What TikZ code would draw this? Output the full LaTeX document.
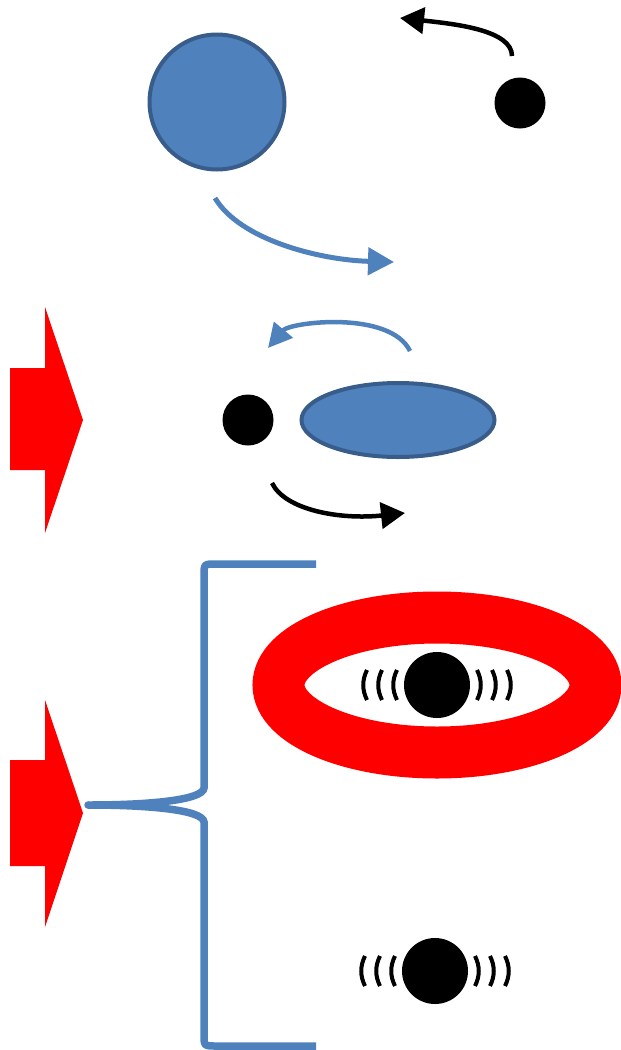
\documentclass[tikz,border=0pt]{standalone}
\usetikzlibrary{arrows.meta,shapes.geometric,calc}
\definecolor{sblue}{HTML}{4F81BD}
\definecolor{sdark}{HTML}{385D8A}
\begin{document}
\begin{tikzpicture}[x=1pt,y=-1pt,
  dot/.style={circle,fill=black,inner sep=0pt,minimum size=51pt},
  bigdot/.style={circle,fill=black,inner sep=0pt,minimum size=66pt},
  bluebody/.style={fill=sblue,draw=sdark,line width=4pt,inner sep=0pt},
  blkarrow/.style={draw=black,line width=4.5pt,-{Triangle[length=24pt,width=26pt]}},
  bluarrow/.style={draw=sblue,line width=5pt,-{Triangle[length=26pt,width=27pt]}},
  bluarrowsmall/.style={draw=sblue,line width=4.5pt,-{Triangle[length=24pt,width=24pt]}},
  blockarrow/.style={fill=red},
  bracestyle/.style={draw=sblue,line width=7.5pt},
  vib/.style={draw=black,line width=4pt},
  ringstyle/.style={ellipse,draw=red,line width=52pt,inner sep=0pt,minimum width=317pt,minimum height=135pt}
]
\useasboundingbox (0,0) rectangle (621,1050);

% top row
\node[bluebody,circle,minimum size=135pt] (bigcircle) at (217,102) {};
\node[dot] (dotA) at (520,103) {};
\coordinate (a1s) at (512,56);
\coordinate (a1e) at (400,18);
\draw[blkarrow] (a1s) .. controls (512,30) and (455,24) .. (a1e);
\coordinate (a2s) at (215,198);
\coordinate (a2e) at (394,262);
\draw[bluarrow] (a2s) .. controls (240,240) and (320,260) .. (a2e);

% block arrows
\fill[blockarrow] (10,368) -- (45,368) -- (45,307) -- (83,420) -- (45,533) -- (45,470) -- (10,470) -- cycle;
\fill[blockarrow] (10,760) -- (45,760) -- (45,700) -- (83,813) -- (45,927) -- (45,866) -- (10,866) -- cycle;

% middle row
\node[dot] (dotB) at (248,420) {};
\node[bluebody,ellipse,minimum width=193pt,minimum height=74pt] (ell) at (398,420) {};
\coordinate (a3s) at (410,351);
\coordinate (a3e) at (268,348);
\draw[bluarrowsmall] (a3s) .. controls (390,310) and (290,322) .. (a3e);
\coordinate (a4s) at (272,483);
\coordinate (a4e) at (405,513);
\draw[blkarrow] (a4s) .. controls (285,510) and (340,520) .. (a4e);

% brace
\coordinate (btop) at (316,564);
\coordinate (btip) at (88,805);
\coordinate (bbot) at (316,1046);
\draw[bracestyle,line cap=butt] (btop) -- (216,564) .. controls (204,564) .. (204,576)
  -- (204,788) .. controls (203,800) and (150,805) .. (btip)
  .. controls (150,805) and (203,810) .. (204,822)
  -- (204,1034) .. controls (204,1046) .. (216,1046) -- (bbot);
\fill[sblue] (btip) circle[radius=3.75pt];

% ring and vibrating balls
\node[ringstyle] (ring) at (437,685) {};
\node[bigdot] (ball1) at (437,685) {};
\node[bigdot] (ball2) at (435,971) {};
\foreach \b in {ball1,ball2}{
  \foreach \d in {44,59,74}{
    \draw[vib] ($(\b)+(-\d+4,-15)$) .. controls ($(\b)+(-\d-1,-5)$) and ($(\b)+(-\d-1,5)$) .. ($(\b)+(-\d+4,15)$);
    \draw[vib] ($(\b)+(\d-4,-15)$) .. controls ($(\b)+(\d+1,-5)$) and ($(\b)+(\d+1,5)$) .. ($(\b)+(\d-4,15)$);
  }
}
\end{tikzpicture}
\end{document}
